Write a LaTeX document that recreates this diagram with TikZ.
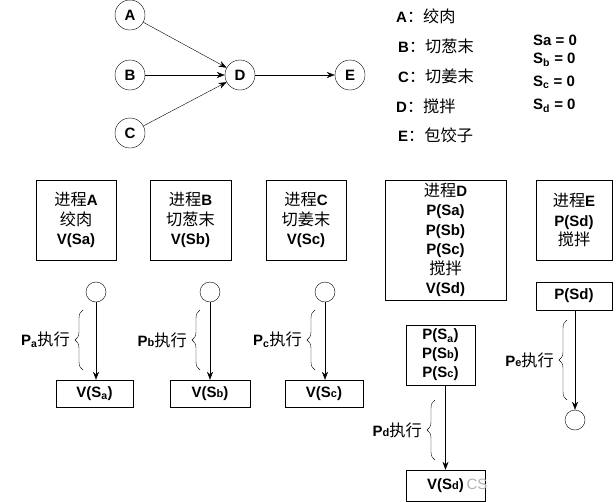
\documentclass[tikz,border=0pt]{standalone}
\usepackage{fontspec}
\setmainfont{Liberation Sans}
\newfontfamily\cjk[Scale=1.08]{Noto Sans CJK SC}
\usepackage{tikz}
\usetikzlibrary{arrows.meta, positioning, decorations.pathreplacing}
\newcommand\zh[1]{{\cjk\mdseries #1}}
\newcommand\sm[1]{{\fontsize{11}{11}\selectfont #1}}
\tikzset{
>={Stealth[length=8pt, width=6pt]}, % filled arrow heads
every node/.style={font=\fontsize{15}{19.5}\selectfont\bfseries},
state/.style={circle, draw, minimum size=30pt, inner sep=0pt}, % the A..E graph
proc/.style={draw, align=center, minimum height=80pt, inner sep=0pt}, % process boxes
sem/.style={draw, align=center, inner sep=0pt}, % P/V boxes
dot/.style={circle, draw, minimum size=20pt, inner sep=0pt},
brc/.style={decorate, decoration={brace, amplitude=8pt}},
legend/.style={anchor=west, inner sep=0pt},
}

\begin{document}
\begin{tikzpicture}[x=1pt, y=-1pt]
        \useasboundingbox (0,0) rectangle (616,501);

        % precedence graph
        \node[state] (A) at (130,15) {A};
        \node[state] (B) at (130,75) {B};
        \node[state] (C) at (130,133) {C};
        \node[state] (D) at (240,75) {D};
        \node[state] (E) at (350,75) {E};
        \draw[->] (A) -- (D);
        \draw[->] (B) -- (D);
        \draw[->] (C) -- (D);
        \draw[->] (D) -- (E);

        % legend
        \node[legend] (la) at (396,16) {A\zh{：绞肉}};
        \node[legend] (lb) at (398,46) {B\zh{：切葱末}};
        \node[legend] (lc) at (398,76) {C\zh{：切姜末}};
        \node[legend] (ld) at (396,106) {D\zh{：搅拌}};
        \node[legend] (le) at (398,135) {E\zh{：包饺子}};
        \node[legend] (sa) at (533,40) {Sa = 0};
        \node[legend] (sb) at (533,60) {S\textsubscript{b} = 0};
        \node[legend] (sc) at (533,82) {S\textsubscript{c} = 0};
        \node[legend] (sd) at (533,106) {S\textsubscript{d} = 0};

        % processes
        \node[proc, minimum width=80pt] (pA) at (76,220) {\zh{进程}A\\\zh{绞肉}\\V(Sa)};
        \node[proc, minimum width=81pt] (pB) at (190.5,220) {\zh{进程}B\\\zh{切葱末}\\V(Sb)};
        \node[proc, minimum width=80pt] (pC) at (306,220) {\zh{进程}C\\\zh{切姜末}\\V(Sc)};
        \node[proc, minimum width=121pt, minimum height=120pt] (pD) at (445.5,240)
            {\zh{进程}D\\P(Sa)\\P(Sb)\\P(Sc)\\\zh{搅拌}\\V(Sd)};
        \node[proc, minimum width=76pt] (pE) at (574,220) {\zh{进程}E\\P(Sd)\\\zh{搅拌}};

        % A, B, C run
        \node[dot] (da) at (96,292) {};
        \node[dot] (db) at (210,292) {};
        \node[dot] (dc) at (325,292) {};
        \node[sem, minimum width=77pt, minimum height=27pt] (va) at (94.5,393.5) {V(S\textsubscript{a})};
        \node[sem, minimum width=80pt, minimum height=27pt] (vb) at (210,393.5) {V(S\sm{b})};
        \node[sem, minimum width=78pt, minimum height=27pt] (vc) at (324,393.5) {V(S\sm{c})};
        \draw[->] (da) -- (da |- va.north);
        \draw[->] (db) -- (db |- vb.north);
        \draw[->] (dc) -- (dc |- vc.north);
        \draw[brc] (83,370) -- (83,310) node[midway, left=13pt, inner sep=0pt] {P\textsubscript{a}\zh{执行}};
        \draw[brc] (200,370) -- (200,310) node[midway, left=13pt, inner sep=0pt] {P\sm{b}\zh{执行}};
        \draw[brc] (315,370) -- (315,310) node[midway, left=13pt, inner sep=0pt] {P\textsubscript{c}\zh{执行}};

        % D runs
        \node[sem, minimum width=69pt, minimum height=60pt, font=\fontsize{15}{19}\selectfont\bfseries] (psd) at (440.5,355)
            {P(S\textsubscript{a})\\P(S\sm{b})\\P(S\sm{c})};
        \node[sem, minimum width=79pt, minimum height=31pt] (vd) at (445.5,485.5) {V(S\sm{d})};
        \node[inner sep=0pt, text=black!30, font=\fontsize{15}{15}\selectfont] (cs) at (477,484) {CS};
        \draw[->] (psd.south -| vd) -- (vd.north);
        \draw[brc] (435,460) -- (435,400) node[midway, left=13pt, inner sep=0pt] {P\sm{d}\zh{执行}};

        % E runs
        \node[sem, minimum width=76pt, minimum height=28pt] (pe) at (574,296) {P(Sd)};
        \node[dot] (de) at (575,420) {};
        \draw[->] (pe.south -| de) -- (de.north);
        \draw[brc] (567,400) -- (567,320) node[midway, left=13pt, inner sep=0pt] {P\sm{e}\zh{执行}};
      \end{tikzpicture}
\end{document}
